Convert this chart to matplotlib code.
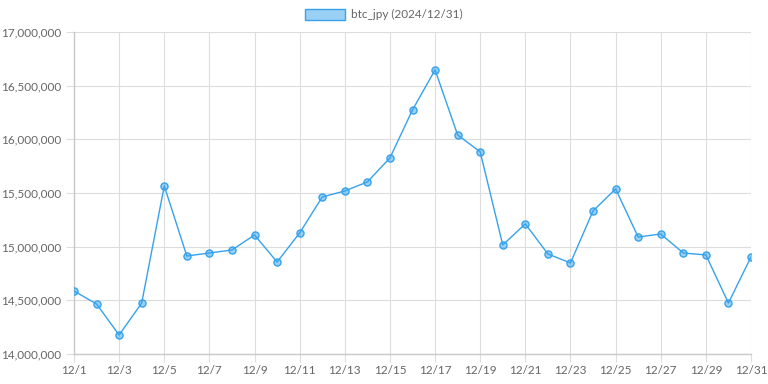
import matplotlib
matplotlib.use("Agg")
import matplotlib.pyplot as plt
from matplotlib.ticker import FuncFormatter, MultipleLocator
from matplotlib.patches import Patch

days = list(range(1, 32))
labels = [f"12/{d}" for d in days]
prices = [14587000, 14466000, 14177000, 14475000, 15566000, 14913000, 14941000,
          14969000, 15109000, 14857000, 15128000, 15463000, 15519000, 15603000,
          15827000, 16274000, 16647000, 16041000, 15883000, 15016000, 15212000,
          14932000, 14848000, 15333000, 15538000, 15090000, 15118000, 14941000,
          14923000, 14475000, 14904000]
series_label = "btc_jpy (2024/12/31)"

plt.rcParams['font.family'] = ['Lato', 'DejaVu Sans']
fig = plt.figure(figsize=(7.68, 3.84), dpi=100)
ax = fig.add_axes([74/768, 1-354/384, (751-74)/768, (354-32)/384])

blue = '#36A2EB'
x = list(range(len(days)))
ax.plot(x, prices, color=blue, lw=1.0, zorder=3)
ax.scatter(x, prices, s=26, facecolor=(54/255, 162/255, 235/255, 0.5), edgecolor=blue, lw=1.0, zorder=4)

ax.set_xlim(0, len(days)-1)
ax.set_ylim(14000000, 17000000)
ax.yaxis.set_major_locator(MultipleLocator(500000))
ax.yaxis.set_major_formatter(FuncFormatter(lambda v, p: f"{int(v):,}"))
ax.set_xticks(x[::2])
ax.set_xticklabels(labels[::2])

grid_c = '#dddddd'
ax.grid(True, color=grid_c, lw=0.8, zorder=0)
for s in ['top', 'right']:
    ax.spines[s].set_visible(False)
for s in ['left', 'bottom']:
    ax.spines[s].set_color('#c8c8c8')
    ax.spines[s].set_linewidth(1.0)
ax.tick_params(axis='both', colors=grid_c, labelcolor='#666666', labelsize=8.5, length=6, width=0.8)
ax.tick_params(axis='x', pad=2)
ax.tick_params(axis='y', pad=3)

leg = fig.legend(handles=[Patch(facecolor=(54/255, 162/255, 235/255, 0.5), edgecolor=blue, lw=1.0, label=series_label)],
                 loc='upper center', bbox_to_anchor=(0.5, 1.005), frameon=False, fontsize=8.5,
                 handlelength=3.4, handleheight=1.1, labelcolor='#666666', handletextpad=0.5)

fig.savefig("out.png", dpi=100)
